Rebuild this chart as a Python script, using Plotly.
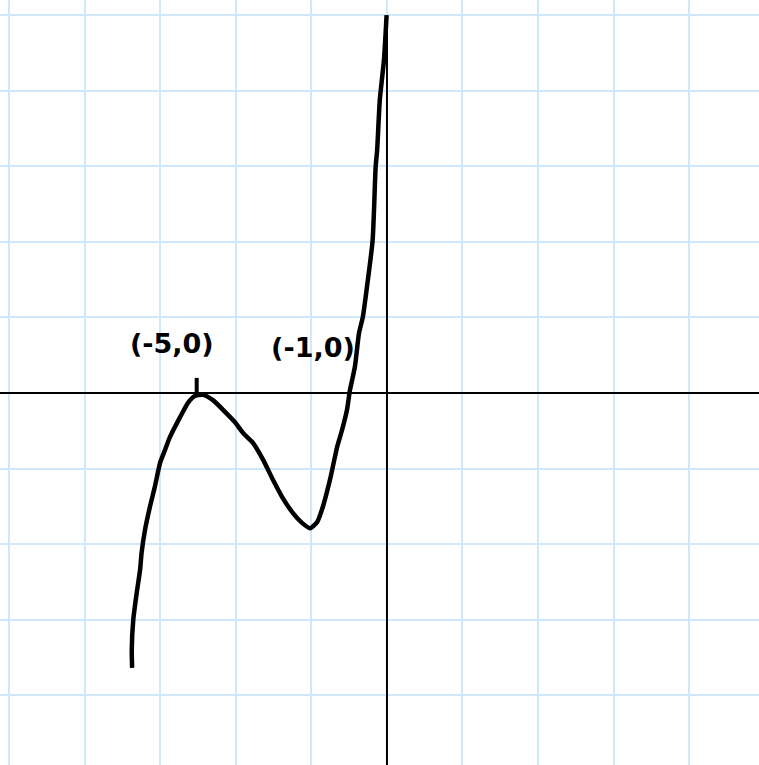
import plotly.graph_objects as go

# ── Hand-drawn curve (data units, one grid square = 2) ───────────────────────
curve_x = [-6.75, -6.76, -6.72, -6.63, -6.54, -6.50, -6.41, -6.28, -6.15, -6.01,
           -5.88, -5.75, -5.48, -5.27, -5.09, -4.87, -4.61, -4.29, -4.03, -3.81,
           -3.55, -3.28, -3.02, -2.78, -2.49, -2.25, -2.04, -1.85, -1.70, -1.51,
           -1.32, -1.19, -1.06, -0.98, -0.85, -0.74, -0.64, -0.53, -0.38, -0.30,
           -0.26, -0.19, -0.08, -0.01]
curve_y = [-7.28, -6.81, -6.01, -5.30, -4.69, -4.24, -3.63, -3.02, -2.49, -1.85,
           -1.51, -1.17, -0.64, -0.26, -0.08, -0.05, -0.19, -0.50, -0.77, -1.06,
           -1.32, -1.77, -2.30, -2.75, -3.18, -3.44, -3.58, -3.42, -3.02, -2.30,
           -1.43, -0.98, -0.45, 0.08, 0.69, 1.59, 2.01, 2.81, 4.05, 5.99,
           6.44, 7.76, 8.82, 10.01]

# axes drawn by hand
x_axis_x = [-10.5, 10.5]
x_axis_y = [0, 0]
y_axis_x = [0, 0]
y_axis_y = [-10.5, 10.0]

# small tick at the (-5, 0) peak
tick_x = [-5.04, -5.04]
tick_y = [0.0, 0.40]

labels = ["(-5,0)", "(-1,0)"]
label_x = [-5.70, -1.96]
label_y = [1.24, 1.14]

GRID = "#cfe9fb"
INK = "black"

fig = go.Figure()
fig.add_trace(go.Scatter(x=x_axis_x, y=x_axis_y, mode="lines",
                         line=dict(color=INK, width=2), hoverinfo="skip"))
fig.add_trace(go.Scatter(x=y_axis_x, y=y_axis_y, mode="lines",
                         line=dict(color=INK, width=2), hoverinfo="skip"))
fig.add_trace(go.Scatter(x=tick_x, y=tick_y, mode="lines",
                         line=dict(color=INK, width=4), hoverinfo="skip"))
fig.add_trace(go.Scatter(x=curve_x, y=curve_y, mode="lines",
                         line=dict(color=INK, width=4.5, shape="spline", smoothing=0.6)))
fig.add_trace(go.Scatter(x=label_x, y=label_y, mode="text", text=labels,
                         textfont=dict(size=27, color=INK, family="DejaVu Sans",
                                       weight="bold")))

fig.update_layout(
    width=759, height=765,
    margin=dict(l=0, r=0, t=0, b=0),
    plot_bgcolor="white", paper_bgcolor="white",
    showlegend=False,
    xaxis=dict(range=[-10.25, 9.854], dtick=2, tick0=0, showgrid=True,
               gridcolor=GRID, gridwidth=2, zeroline=False,
               showticklabels=False, ticks="", fixedrange=True),
    yaxis=dict(range=[-9.854, 10.41], dtick=2, tick0=0, showgrid=True,
               gridcolor=GRID, gridwidth=2, zeroline=False,
               showticklabels=False, ticks="", fixedrange=True),
)

# page body has a default margin; drop it so the chart fills the window
fig.write_html("out.html", config={"displayModeBar": False},
               post_script="document.body.style.margin='0';")
